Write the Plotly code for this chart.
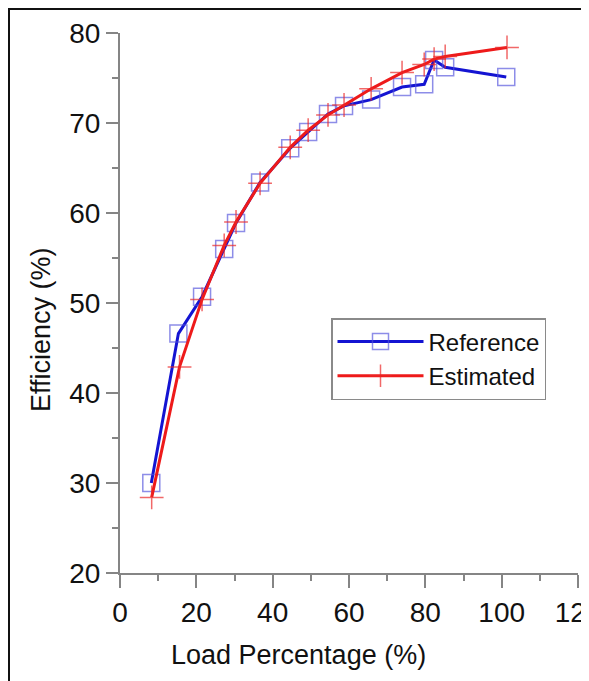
import plotly.graph_objects as go

# Data
ref_load = [8.2, 15.3, 21.5, 27.3, 30.4, 36.7, 44.6, 49.3, 54.5, 58.7, 65.8, 73.9, 79.7, 82.3, 85.2, 101.2]
ref_eff = [30.0, 46.6, 50.7, 56.0, 58.9, 63.4, 67.2, 69.0, 71.0, 71.9, 72.6, 74.0, 74.3, 77.0, 76.2, 75.1]

est_load = [8.3, 15.6, 21.5, 27.3, 30.4, 36.7, 44.6, 49.3, 54.5, 58.7, 65.8, 73.9, 79.7, 82.3, 85.2, 101.4]
est_eff = [28.4, 42.9, 50.4, 56.4, 59.0, 63.3, 67.3, 69.2, 70.9, 72.0, 73.8, 75.6, 76.5, 77.1, 77.4, 78.4]

x_ticks = [0, 20, 40, 60, 80, 100, 120]
y_ticks = [20, 30, 40, 50, 60, 70, 80]

FONT = "Liberation Sans, Arial, sans-serif"
OFF = 8  # page body margin
W, H = 589 - OFF, 681 - OFF
PL, PR, PT, PB = 120, 578, 33, 573  # plot area in page pixels
L, T = PL - OFF, PT - OFF
R = W - L - (PR - PL)
B = H - T - (PB - PT)
PW, PH = PR - PL, PB - PT


def px(xp):
    return (xp - PL) / PW


def py(yp):
    return (PB - yp) / PH


fig = go.Figure()
fig.add_trace(go.Scatter(
    x=ref_load, y=ref_eff, name="Reference", mode="lines+markers",
    line=dict(color="#1414d2", width=3),
    marker=dict(symbol="square-open", size=17, color="rgba(80,80,220,0.65)",
                line=dict(width=1.5, color="rgba(80,80,220,0.65)")),
))
fig.add_trace(go.Scatter(
    x=est_load, y=est_eff, name="Estimated", mode="lines+markers",
    line=dict(color="#ee1a1a", width=3),
    marker=dict(symbol="cross-thin-open", size=17, color="rgba(235,40,40,0.7)",
                line=dict(width=1.5, color="rgba(235,40,40,0.7)")),
))

axis_common = dict(
    showline=True, linecolor="#858585", linewidth=2,
    ticks="outside", tickwidth=2, tickcolor="#858585",
    showgrid=False, zeroline=False, automargin=False,
    tickfont=dict(family=FONT, size=28, color="#111111"),
)

fig.update_xaxes(range=[0, 120], tickvals=x_ticks, ticktext=[str(v) for v in x_ticks], ticklen=13,
                 ticklabeloverflow="allow",
                 minor=dict(ticks="outside", ticklen=6, tickwidth=2, tickcolor="#858585", dtick=10, tick0=0),
                 **axis_common)
fig.update_yaxes(range=[20, 80], tickvals=y_ticks, ticktext=[str(v) for v in y_ticks], ticklen=12,
                 minor=dict(ticks="outside", ticklen=6, tickwidth=2, tickcolor="#858585", dtick=5, tick0=0),
                 **axis_common)

fig.update_layout(
    width=W, height=H,
    margin=dict(l=L, r=R, t=T, b=B, pad=0, autoexpand=False),
    paper_bgcolor="white", plot_bgcolor="white",
    showlegend=True,
    legend=dict(
        x=px(331), y=py(318), xanchor="left", yanchor="top",
        bordercolor="#8a8a8a", borderwidth=1.5, bgcolor="white",
        font=dict(family=FONT, size=24, color="#111111"),
        itemwidth=86, tracegroupgap=0,
    ),
    annotations=[
        dict(text="Load Percentage (%)", x=px(298), y=py(655), xref="paper", yref="paper",
             xanchor="center", yanchor="middle", showarrow=False,
             font=dict(family=FONT, size=27, color="#111111")),
        dict(text="Efficiency (%)", x=px(41), y=py(330), xref="paper", yref="paper",
             xanchor="center", yanchor="middle", showarrow=False, textangle=-90,
             font=dict(family=FONT, size=27, color="#111111")),
    ],
    shapes=[
        # white cover clipping the right edge (cut "120" label)
        dict(type="rect", xref="paper", yref="paper", x0=px(586), x1=px(600), y0=py(690), y1=py(11),
             fillcolor="white", line=dict(width=0), layer="above"),
        # frame lines
        dict(type="line", xref="paper", yref="paper", x0=px(8.5), x1=px(8.5), y0=py(8), y1=py(690),
             line=dict(color="#111111", width=3), layer="above"),
        dict(type="line", xref="paper", yref="paper", x0=px(7), x1=px(600), y0=py(8.5), y1=py(8.5),
             line=dict(color="#111111", width=3), layer="above"),
    ],
)

fig.write_html("out.html")
